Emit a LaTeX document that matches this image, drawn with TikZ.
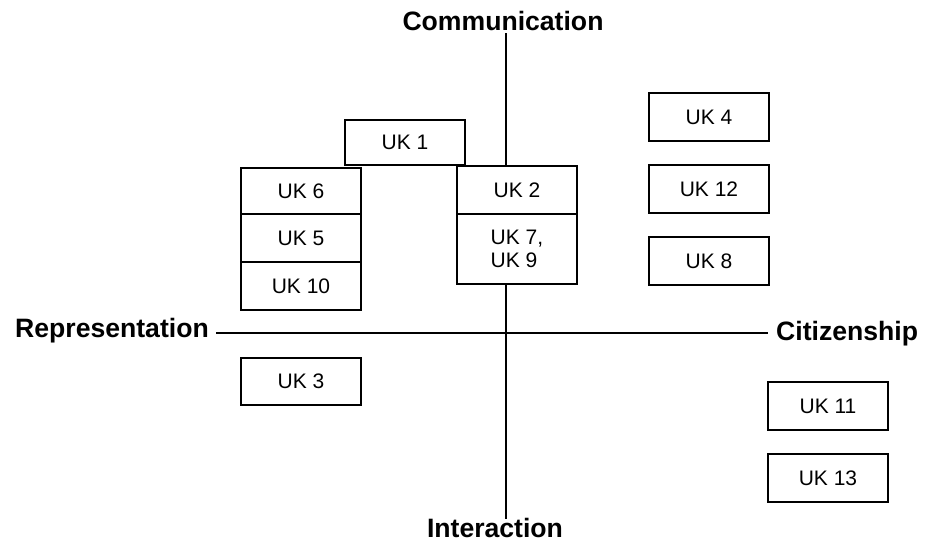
\documentclass[tikz,border=0pt]{standalone}
\usepackage{fontspec}
\setmainfont{Liberation Sans}
\begin{document}
\begin{tikzpicture}[x=1pt,y=-1pt,
  ukbox/.style={draw,fill=white,line width=1.2pt,rectangle,inner sep=0pt,
    minimum width=120pt,font=\fontsize{21}{23.5}\selectfont},
  axislabel/.style={inner sep=0pt,font=\fontsize{26.6}{29}\selectfont\bfseries},
  axis/.style={line width=1.2pt}]
\useasboundingbox (0,0) rectangle (929,544);

% axis labels
\node[axislabel,anchor=base] (comm) at (503,30) {Communication};
\node[axislabel,anchor=base] (inter) at (495,537) {Interaction};
\node[axislabel,anchor=base east] (repr) at (209,337) {Representation};
\node[axislabel,anchor=base west] (citi) at (776,340) {Citizenship};

% axis end points
\coordinate (vtop) at (506,33);
\coordinate (vbot) at (506,519);
\coordinate (hleft) at (216,333);
\coordinate (hright) at (768,333);
\draw[axis] (vtop) -- (vbot);
\draw[axis] (hleft) -- (hright);

% left stack
\node[ukbox,minimum height=46pt] (uk6) at (301,191) {UK 6};
\node[ukbox,minimum height=48pt] (uk5) at (301,238) {UK 5};
\node[ukbox,minimum height=48pt] (uk10) at (301,286) {UK 10};

% top group
\node[ukbox,minimum height=45pt] (uk1) at (405,142.5) {UK 1};
\node[ukbox,minimum height=48pt] (uk2) at (517,190) {UK 2};
\node[ukbox,minimum height=70pt,align=left] (uk79) at (517,249) {UK 7,\\UK 9};

% right column
\node[ukbox,minimum height=48pt] (uk4) at (709,117) {UK 4};
\node[ukbox,minimum height=48pt] (uk12) at (709,189) {UK 12};
\node[ukbox,minimum height=48pt] (uk8) at (709,261) {UK 8};

% lower boxes
\node[ukbox,minimum height=47pt] (uk3) at (301,381.5) {UK 3};
\node[ukbox,minimum height=48pt] (uk11) at (828,406) {UK 11};
\node[ukbox,minimum height=48pt] (uk13) at (828,478) {UK 13};
\end{tikzpicture}
\end{document}
